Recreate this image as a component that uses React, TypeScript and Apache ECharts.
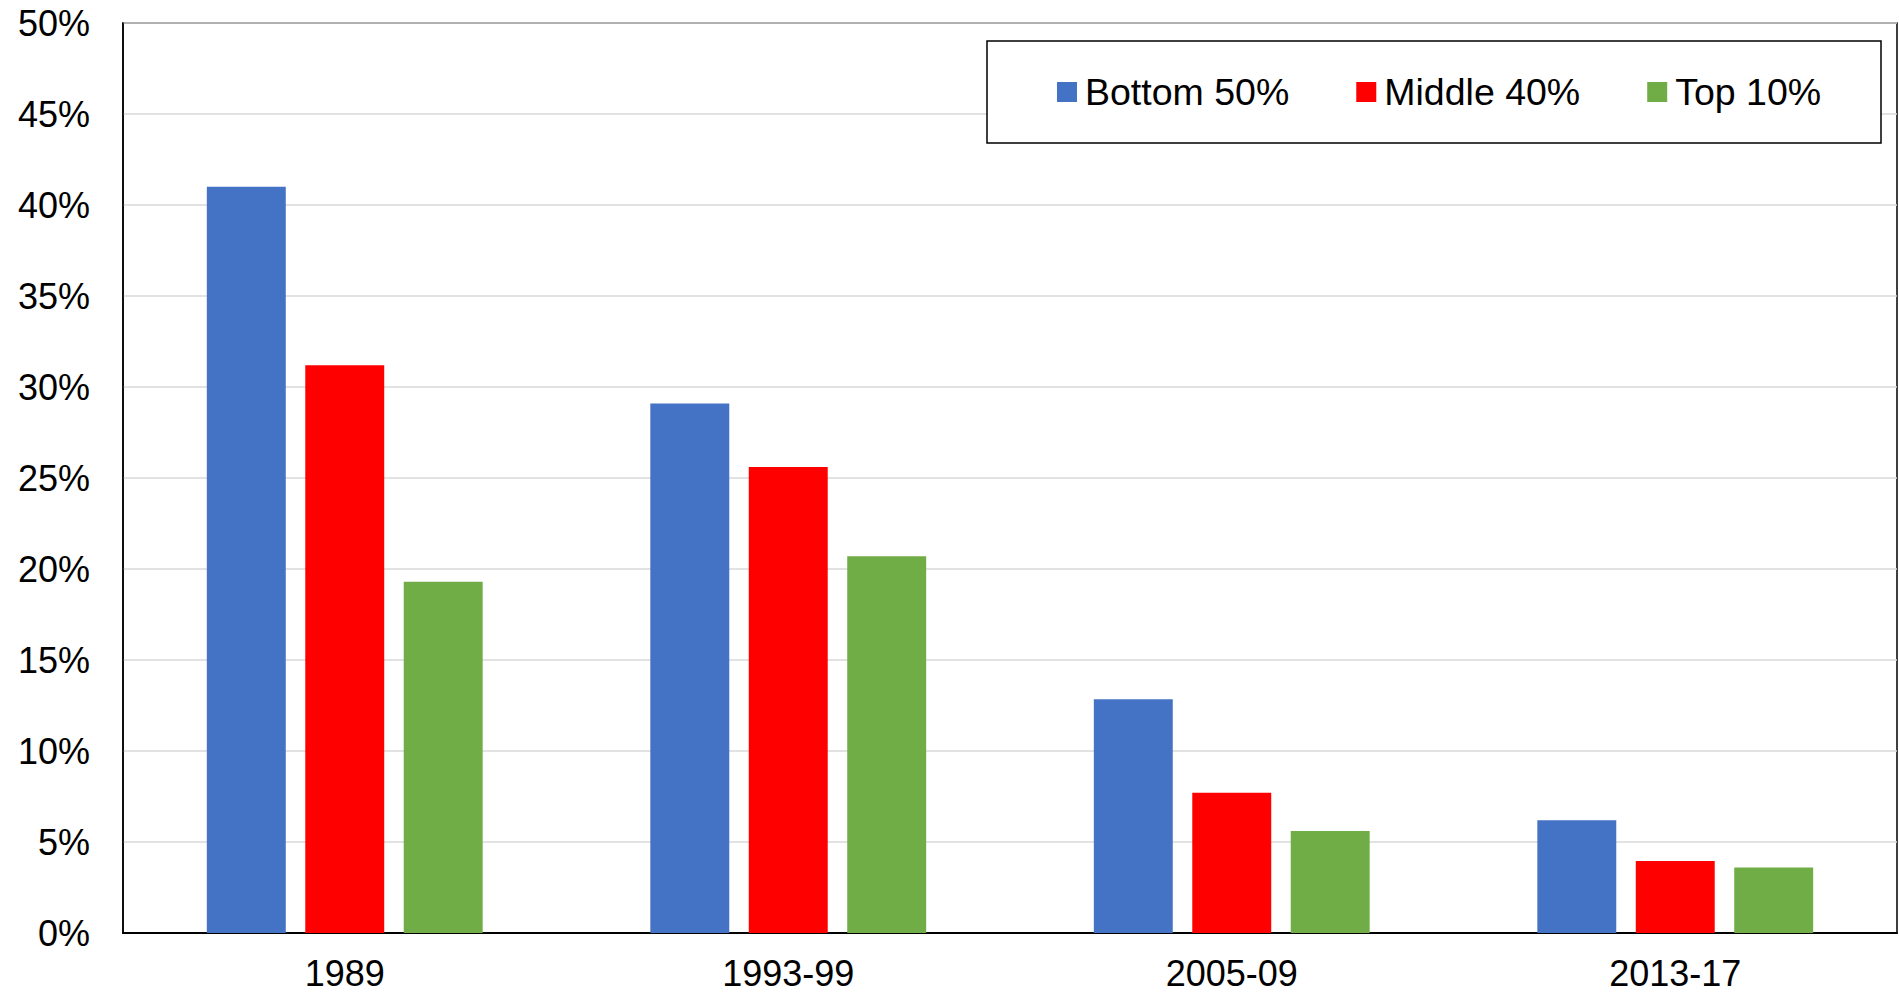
import React, { useEffect, useRef } from "react";
import * as echarts from "echarts";

const categories = ["1989", "1993-99", "2005-09", "2013-17"];
const bottom50 = [41.0, 29.1, 12.85, 6.2];
const middle40 = [31.2, 25.6, 7.7, 3.95];
const top10 = [19.3, 20.7, 5.6, 3.6];
const seriesNames = ["Bottom 50%", "Middle 40%", "Top 10%"];
const colors = ["#4472C4", "#FF0000", "#70AD47"];

const FONT = "'Liberation Sans', Arial, sans-serif";

export default function App() {
  const ref = useRef<HTMLDivElement>(null);
  useEffect(() => {
    if (!ref.current) return;
    const chart = echarts.init(ref.current, null, { renderer: "svg" });
    const data = [bottom50, middle40, top10];
    chart.setOption({
      animation: false,
      backgroundColor: "#ffffff",
      textStyle: { fontFamily: FONT },
      grid: {
        left: 123,
        right: 2,
        top: 23,
        bottom: 63,
        show: true,
        borderColor: "#000000",
        borderWidth: 1.5,
        containLabel: false,
      },
      graphic: [
        {
          type: "rect",
          shape: { x: 987, y: 41, width: 894, height: 102 },
          style: { fill: "#ffffff", stroke: "#000000", lineWidth: 1.5 },
          z: 10,
        },
      ],
      legend: {
        left: 1052,
        top: 68,
        itemWidth: 20,
        itemHeight: 20,
        itemGap: 67,
        icon: "rect",
        z: 20,
        textStyle: { fontSize: 37.5, color: "#000000", fontFamily: FONT, padding: [0, 0, 0, 3] },
        data: seriesNames,
      },
      xAxis: {
        type: "category",
        data: categories,
        axisLine: { show: true, lineStyle: { color: "#000000", width: 2 } },
        axisTick: { show: false },
        axisLabel: { fontSize: 36, color: "#000000", margin: 22, fontFamily: FONT },
      },
      yAxis: {
        type: "value",
        min: 0,
        max: 50,
        interval: 5,
        axisLine: { show: true, lineStyle: { color: "#000000", width: 1.5 } },
        axisTick: { show: false },
        splitLine: { show: true, lineStyle: { color: "#d9d9d9", width: 1.5 } },
        axisLabel: {
          fontSize: 36,
          color: "#000000",
          margin: 33,
          fontFamily: FONT,
          formatter: "{value}%",
        },
      },
      series: seriesNames.map((name, i) => ({
        name,
        type: "bar",
        data: data[i],
        itemStyle: { color: colors[i] },
        barGap: "24.7%",
        barCategoryGap: "37.8%",
      })),
    });
    return () => chart.dispose();
  }, []);
  return (
    <div
      ref={ref}
      style={{ position: "fixed", left: 0, top: 0, width: 1899, height: 996, background: "#fff" }}
    />
  );
}
